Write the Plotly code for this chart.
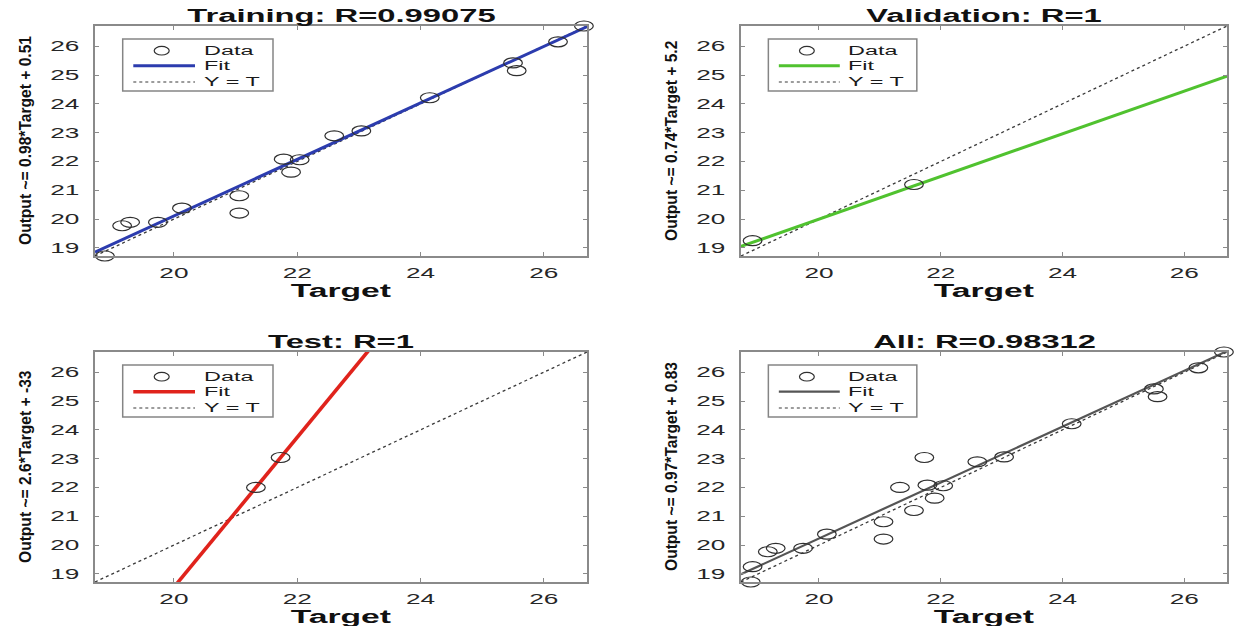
import plotly.graph_objects as go

FONT = "Liberation Sans"

# Targets and network outputs for each data split
train_target = [18.88, 19.16, 19.29, 19.74, 20.13, 21.06, 21.06, 21.78, 21.90, 22.04,
                22.60, 23.04, 24.15, 25.50, 25.56, 26.23, 26.65]
train_output = [18.72, 19.77, 19.89, 19.89, 20.38, 20.81, 20.21, 22.08, 21.63, 22.06,
                22.89, 23.06, 24.21, 25.42, 25.15, 26.15, 26.70]
val_target = [18.91, 21.56]
val_output = [19.25, 21.20]
test_target = [21.33, 21.73]
test_output = [22.00, 23.04]

# Linear regression of output on target, and correlation R, per split
panel_names = ["Training", "Validation", "Test", "All"]
fit_slope = [0.98, 0.74, 2.6, 0.97]
fit_intercept = [0.51, 5.2, -33.46, 0.83]
r_values = [0.99075, 1, 1, 0.98312]

fit_colors = ["#2c3cae", "#50c22f", "#e0231c", "#555555"]
fit_widths = [3, 3, 3.6, 2.2]

x_ticks = [20, 22, 24, 26]
y_ticks = [19, 20, 21, 22, 23, 24, 25, 26]

all_target = train_target + val_target + test_target
all_output = train_output + val_output + test_output
targets = [train_target, val_target, test_target, all_target]
outputs = [train_output, val_output, test_output, all_output]

lo = min(all_target + all_output)
hi = max(all_target + all_output)

W, H = 1235, 626
col_px = [(95, 587), (741, 1227)]
row_px = [(26, 256), (352, 582)]
STRETCH = 1.87        # horizontal widening of upright text and markers

fig = go.Figure()
annotations = []
shapes = []
layout_axes = {}

for i, name in enumerate(panel_names):
    r, c = divmod(i, 2)
    (x0, x1), (y0, y1) = col_px[c], row_px[r]
    pw, ph = x1 - x0, y1 - y0
    sfx = "" if i == 0 else str(i + 1)
    xa, ya = "x" + sfx, "y" + sfx
    xd, yd = xa + " domain", ya + " domain"

    m, b = fit_slope[i], fit_intercept[i]
    line_x = [lo, hi]

    fig.add_trace(go.Scatter(
        x=line_x, y=line_x, mode="lines", xaxis=xa, yaxis=ya,
        line=dict(color="#3a3a3a", width=1.3, dash="dot"), showlegend=False,
        hoverinfo="skip"))
    fig.add_trace(go.Scatter(
        x=line_x, y=[m * v + b for v in line_x], mode="lines", xaxis=xa, yaxis=ya,
        line=dict(color=fit_colors[i], width=fit_widths[i]), showlegend=False))
    fig.add_trace(go.Scatter(
        x=targets[i], y=outputs[i], mode="markers", xaxis=xa, yaxis=ya,
        cliponaxis=False, showlegend=False,
        marker=dict(symbol="circle-open", size=10, color="#2f2f2f",
                    line=dict(color="#2f2f2f", width=1.2))))

    axis_common = dict(
        range=[lo, hi], ticks="inside", ticklen=4, tickwidth=1, tickcolor="#8a8a8a",
        showline=True, linecolor="#8a8a8a", linewidth=1.5, mirror="ticks",
        showgrid=False, zeroline=False, automargin=False,
        tickfont=dict(family=FONT, size=14, color="#262626"))
    layout_axes["xaxis" + sfx] = dict(
        axis_common, domain=[x0 / W, x1 / W], anchor=ya, tickvals=x_ticks,
        ticklabelstandoff=3)
    layout_axes["yaxis" + sfx] = dict(
        axis_common, domain=[1 - y1 / H, 1 - y0 / H], anchor=xa, tickvals=y_ticks,
        ticklabelstandoff=11)

    # titles
    annotations.append(dict(
        text=f"{name}: R={r_values[i]:.5g}", xref=xd, yref=yd, x=0.5,
        y=1 + 10 / ph, xanchor="center", yanchor="middle", showarrow=False,
        font=dict(family=FONT, size=17.5, color="#111111", weight="bold")))
    annotations.append(dict(
        text="Target", xref=xd, yref=yd, x=0.5, y=-35 / ph,
        xanchor="center", yanchor="middle", showarrow=False,
        font=dict(family=FONT, size=18, color="#111111", weight="bold")))
    annotations.append(dict(
        text=f"Output ~= {m:.2g}*Target + {b:.2g}", xref=xd, yref=yd,
        x=-70 / pw, y=0.5, xanchor="center", yanchor="middle", textangle=-90,
        showarrow=False,
        font=dict(family=FONT, size=15.6, color="#111111", weight="bold")))

    # legend box
    bx0, bx1 = 27.7 / 492, 178 / 492
    by_top, by_bot = 1 - 13 / 230, 1 - 65 / 230
    rows = [1 - 24.7 / 230, 1 - 39.7 / 230, 1 - 56 / 230]
    lx0, lx1 = 38.3 / 492, 100 / 492
    tx = 106.7 / 492
    cx, rx, ry = 66.7 / 492, 7.5 / 492, 4.3 / 230
    shapes.append(dict(type="rect", xref=xd, yref=yd, x0=bx0, x1=bx1, y0=by_bot,
                       y1=by_top, line=dict(color="#858585", width=1.5),
                       fillcolor="white", layer="above"))
    shapes.append(dict(type="circle", xref=xd, yref=yd, x0=cx - rx, x1=cx + rx,
                       y0=rows[0] - ry, y1=rows[0] + ry,
                       line=dict(color="#2f2f2f", width=1.2), layer="above"))
    shapes.append(dict(type="line", xref=xd, yref=yd, x0=lx0, x1=lx1, y0=rows[1],
                       y1=rows[1], line=dict(color=fit_colors[i], width=fit_widths[i]),
                       layer="above"))
    shapes.append(dict(type="line", xref=xd, yref=yd, x0=lx0, x1=lx1, y0=rows[2],
                       y1=rows[2], line=dict(color="#3a3a3a", width=1.2, dash="dot"),
                       layer="above"))
    for label, yy in zip(["Data", "Fit", "Y = T"], rows):
        annotations.append(dict(
            text=label, xref=xd, yref=yd, x=tx, y=yy, xanchor="left", align="left",
            yanchor="middle", showarrow=False,
            font=dict(family=FONT, size=12.5, color="#1a1a1a")))

fig.update_layout(
    width=W, height=H, margin=dict(l=0, r=0, t=0, b=0),
    paper_bgcolor="white", plot_bgcolor="white", showlegend=False,
    annotations=annotations, shapes=shapes, **layout_axes)

# Widen upright text horizontally and draw the data circles as flattened ellipses
post = """
var gd = document.getElementById('{plot_id}');
var k = %f;
gd.querySelectorAll('text').forEach(function (t) {
  if (t.textContent.indexOf('Output') === 0) return;
  var w = t.getComputedTextLength();
  if (!w) return;
  t.setAttribute('lengthAdjust', 'spacingAndGlyphs');
  t.setAttribute('textLength', (w * k).toFixed(2));
});
gd.querySelectorAll('.scatterlayer path.point').forEach(function (p) {
  p.setAttribute('transform', (p.getAttribute('transform') || '') + ' scale(' + k + ',1)');
  p.style.vectorEffect = 'non-scaling-stroke';
});
""" % STRETCH

fig.write_html("out.html", config={"displayModeBar": False}, post_script=post)
